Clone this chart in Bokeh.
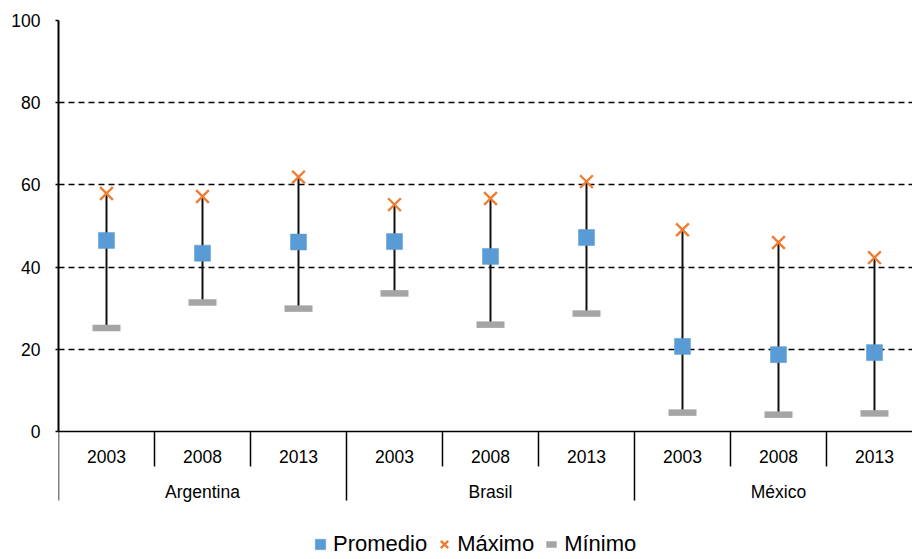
from bokeh.plotting import figure
from bokeh.models import Range1d, FixedTicker, ColumnDataSource, Legend, LegendItem
from bokeh.core.properties import value
from bokeh.embed import file_html
from bokeh.resources import INLINE

# ---- data ----
countries = ["Argentina", "Brasil", "México"]
years = ["2003", "2008", "2013"]
promedio = [46.5, 43.4, 46.1, 46.2, 42.6, 47.2, 20.7, 18.7, 19.2]
maximo = [57.9, 57.2, 61.9, 55.2, 56.7, 60.8, 49.1, 46.0, 42.3]
minimo = [25.2, 31.4, 29.9, 33.6, 26.0, 28.7, 4.6, 4.1, 4.4]
y_ticks = [0, 20, 40, 60, 80, 100]
series_names = ["Promedio", "Máximo", "Mínimo"]

FONT = value("Liberation Sans")
BLUE = "#5B9BD5"
ORANGE = "#ED7D31"
GRAY = "#A5A5A5"

n_years = len(years)
n = len(countries) * n_years
xs = [i + 0.5 for i in range(n)]
year_labels = [years[i % n_years] for i in range(n)]
country_x = [c * n_years + n_years / 2 for c in range(len(countries))]

src = ColumnDataSource(dict(x=xs, mean=promedio, mx=maximo, mn=minimo, yl=year_labels))

p = figure(width=912, height=559, output_backend="svg", toolbar_location=None,
           x_range=Range1d(0, 8.896), y_range=Range1d(-31.14, 100),
           x_axis_location=None, min_border_left=58, min_border_right=0,
           min_border_top=20, min_border_bottom=0)
p.outline_line_color = None
p.background_fill_color = "white"
p.border_fill_color = "white"

# y axis
ax = p.yaxis[0]
ax.ticker = FixedTicker(ticks=y_ticks)
ax.bounds = (0, 100)
ax.axis_line_color = "black"
ax.axis_line_width = 2
ax.major_tick_out = 3
ax.major_tick_in = 0
ax.major_tick_line_color = "black"
ax.major_tick_line_width = 1.5
ax.minor_tick_line_color = None
ax.major_label_standoff = 15
ax.major_label_text_font = "Liberation Sans"
ax.major_label_text_font_size = "17.5px"
ax.major_label_text_color = "black"

p.xgrid.visible = False
p.ygrid.ticker = FixedTicker(ticks=y_ticks[1:])
p.ygrid.grid_line_color = "black"
p.ygrid.grid_line_dash = "6 4"
p.ygrid.grid_line_width = 1.5

# category axis drawn in the data frame
p.segment(x0=[0], y0=[0], x1=[n + 1], y1=[0], line_color="black", line_width=1.5)
year_sep = [float(i) for i in range(1, n) if i % n_years != 0]
country_sep = [float(i) for i in range(0, n, n_years)]
p.segment(x0=year_sep, y0=[0] * len(year_sep), x1=year_sep, y1=[-8.5] * len(year_sep),
          line_color="black", line_width=1.5)
p.segment(x0=country_sep, y0=[0] * len(country_sep), x1=country_sep,
          y1=[-16.8] * len(country_sep), line_color="black", line_width=1.5)
p.text(x="x", y=-6.0, text="yl", source=src, text_align="center", text_baseline="middle",
       text_font=FONT, text_font_size="17.5px", text_color="black")
p.text(x=country_x, y=[-14.6] * len(countries), text=countries, text_align="center",
       text_baseline="middle", text_font=FONT, text_font_size="17.5px", text_color="black")

# marks
p.segment(x0="x", y0="mn", x1="x", y1="mx", source=src, line_color="#111111", line_width=2)
r_min = p.scatter(x="x", y="mn", source=src, marker="dash", size=28, line_width=6.5,
                  line_color=GRAY)
r_mean = p.scatter(x="x", y="mean", source=src, marker="square", size=16,
                   fill_color=BLUE, line_color=BLUE, line_width=0.5)
r_max = p.scatter(x="x", y="mx", source=src, marker="x", size=18, line_color=ORANGE,
                  line_width=2.4)

legend = Legend(items=[LegendItem(label=series_names[0], renderers=[r_mean]),
                       LegendItem(label=series_names[1], renderers=[r_max]),
                       LegendItem(label=series_names[2], renderers=[r_min])],
                orientation="horizontal", location=(249, 2),
                glyph_width=26, glyph_height=26, label_standoff=-5, spacing=4,
                padding=0, margin=0, border_line_color=None, background_fill_alpha=0,
                label_text_font="Liberation Sans", label_text_font_size="22px",
                label_text_color="black", label_text_baseline="middle")
p.add_layout(legend, "center")

open("out.html", "w").write(file_html(p, INLINE))
